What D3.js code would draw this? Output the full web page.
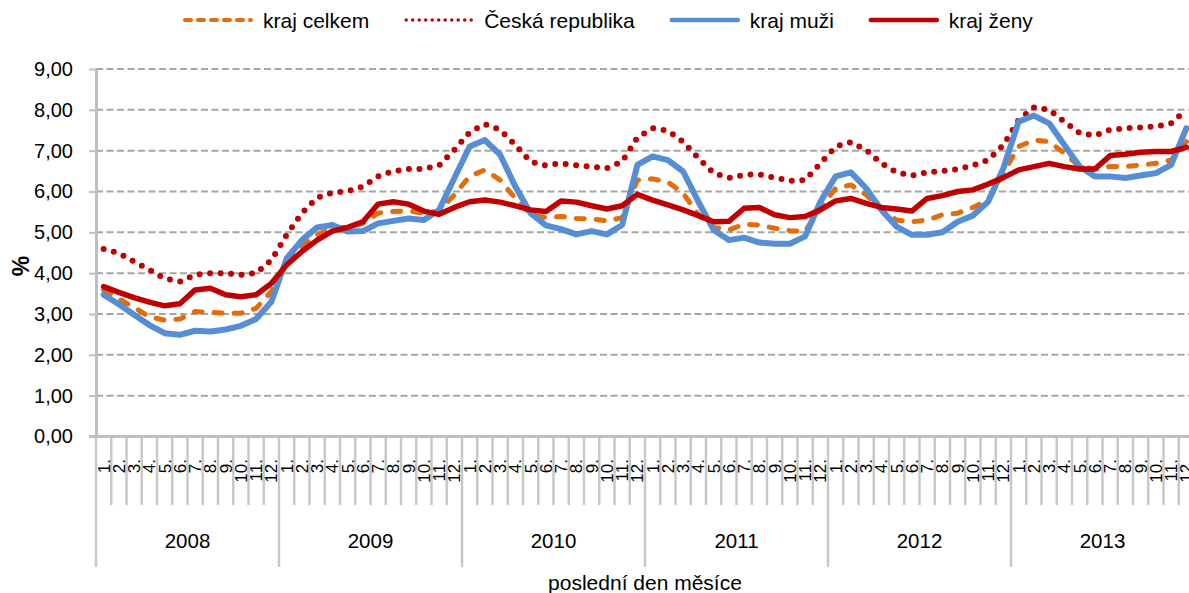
<!DOCTYPE html>
<html>
<head>
<meta charset="utf-8">
<script src="https://cdn.jsdelivr.net/npm/d3@7"></script>
<style>
  html, body { margin: 0; padding: 0; overflow: hidden; background: #fff; }
  svg { display: block; font-family: "Liberation Sans", Arial, sans-serif; }
</style>
</head>
<body>
<svg id="chart" width="1189" height="593"></svg>
<script>
// ---- data ----
const years = ["2008", "2009", "2010", "2011", "2012", "2013"];
const monthLabels = ["1.", "2.", "3.", "4.", "5.", "6.", "7.", "8.", "9.", "10.", "11.", "12."];
const yTicks = [0, 1, 2, 3, 4, 5, 6, 7, 8, 9];
const seriesNames = ["kraj celkem", "Česká republika", "kraj muži", "kraj ženy"];

const krajCelkem = [
  3.59, 3.37, 3.16, 2.93, 2.85, 2.88, 3.06, 3.04, 3.02, 3.02, 3.14, 3.55,
  4.24, 4.65, 4.94, 5.10, 5.12, 5.22, 5.47, 5.51, 5.52, 5.47, 5.52, 5.92,
  6.37, 6.53, 6.28, 5.83, 5.44, 5.36, 5.39, 5.34, 5.33, 5.28, 5.36, 6.28,
  6.31, 6.23, 5.96, 5.43, 5.12, 5.06, 5.20, 5.18, 5.10, 5.04, 5.03, 5.59,
  6.08, 6.16, 5.92, 5.55, 5.30, 5.26, 5.30, 5.43, 5.47, 5.61, 5.79, 6.45,
  7.10, 7.26, 7.22, 6.94, 6.61, 6.55, 6.61, 6.61, 6.65, 6.69, 6.77, 7.22
];
const ceskaRepublika = [
  4.59, 4.49, 4.28, 4.08, 3.87, 3.79, 3.96, 4.00, 4.00, 3.96, 4.00, 4.32,
  4.94, 5.47, 5.85, 5.97, 6.01, 6.12, 6.37, 6.50, 6.55, 6.55, 6.64, 7.02,
  7.45, 7.65, 7.51, 7.14, 6.73, 6.64, 6.69, 6.64, 6.61, 6.57, 6.73, 7.32,
  7.55, 7.49, 7.22, 6.82, 6.45, 6.33, 6.41, 6.42, 6.34, 6.26, 6.28, 6.69,
  7.10, 7.21, 7.02, 6.69, 6.47, 6.39, 6.47, 6.50, 6.55, 6.64, 6.77, 7.14,
  7.75, 8.06, 8.00, 7.71, 7.43, 7.37, 7.51, 7.55, 7.57, 7.59, 7.67, 8.00
];
const krajMuzi = [
  3.47, 3.24, 2.98, 2.73, 2.53, 2.49, 2.59, 2.57, 2.62, 2.71, 2.88, 3.30,
  4.36, 4.81, 5.12, 5.18, 5.02, 5.03, 5.22, 5.28, 5.34, 5.30, 5.55, 6.33,
  7.10, 7.26, 6.90, 6.12, 5.47, 5.17, 5.08, 4.95, 5.03, 4.95, 5.18, 6.65,
  6.86, 6.77, 6.49, 5.75, 5.06, 4.81, 4.87, 4.75, 4.72, 4.72, 4.90, 5.75,
  6.37, 6.47, 6.08, 5.55, 5.14, 4.94, 4.94, 5.00, 5.26, 5.41, 5.75, 6.57,
  7.71, 7.86, 7.67, 7.14, 6.61, 6.37, 6.37, 6.33, 6.39, 6.45, 6.65, 7.55
];
const krajZeny = [
  3.67, 3.53, 3.40, 3.29, 3.20, 3.25, 3.59, 3.63, 3.47, 3.42, 3.47, 3.75,
  4.20, 4.53, 4.81, 5.03, 5.12, 5.26, 5.69, 5.75, 5.69, 5.52, 5.44, 5.61,
  5.75, 5.79, 5.74, 5.65, 5.55, 5.51, 5.77, 5.74, 5.65, 5.57, 5.65, 5.93,
  5.79, 5.67, 5.55, 5.41, 5.26, 5.27, 5.59, 5.61, 5.43, 5.36, 5.39, 5.55,
  5.77, 5.83, 5.71, 5.61, 5.57, 5.52, 5.83, 5.90, 6.00, 6.04, 6.18, 6.34,
  6.53, 6.61, 6.69, 6.61, 6.55, 6.55, 6.88, 6.91, 6.96, 6.98, 6.98, 7.08
];

// ---- build ----
const categories = [];
years.forEach(yr => monthLabels.forEach(m => categories.push(yr + "-" + m)));

const svg = d3.select("#chart");
const plotLeft = 96, plotRight = 1194, plotTop = 69, plotBottom = 436.5;

const x = d3.scaleBand().domain(categories).range([plotLeft, plotRight]).padding(0);
const y = d3.scaleLinear().domain([0, 9]).range([plotBottom, plotTop]);
const cx = c => x(c) + x.bandwidth() / 2;
const axisColor = "#BFBFBF";

// gridlines
svg.append("g").selectAll("line").data(yTicks.filter(t => t > 0)).join("line")
  .attr("x1", plotLeft).attr("x2", 1189)
  .attr("y1", d => y(d)).attr("y2", d => y(d))
  .attr("stroke", "#A6A6A6").attr("stroke-width", 2)
  .attr("stroke-dasharray", "7,3.5");

// y axis
const yAxis = d3.axisLeft(y).tickValues(yTicks)
  .tickFormat(d => d3.format(".2f")(d).replace(".", ","))
  .tickSizeInner(7).tickSizeOuter(0).tickPadding(16);
const yg = svg.append("g").attr("transform", `translate(${plotLeft},0)`).call(yAxis);
yg.select(".domain").attr("stroke", axisColor).attr("stroke-width", 3);
yg.selectAll(".tick line").attr("stroke", axisColor).attr("stroke-width", 2);
yg.selectAll(".tick text").attr("font-size", 20).attr("fill", "#000")
  .attr("font-family", "Liberation Sans, Arial, sans-serif");

// x axis: month boundary ticks
const boundaries = d3.range(categories.length + 1);
const bx = i => i < categories.length ? x(categories[i]) : x(categories[i - 1]) + x.bandwidth();
svg.append("g").selectAll("line").data(boundaries).join("line")
  .attr("x1", i => bx(i)).attr("x2", i => bx(i))
  .attr("y1", plotBottom).attr("y2", i => (i % 12 === 0) ? 567 : 505)
  .attr("stroke", "#C8C8C8").attr("stroke-width", 2.5);

svg.append("line").attr("x1", 89).attr("x2", 1189).attr("y1", plotBottom).attr("y2", plotBottom)
  .attr("stroke", axisColor).attr("stroke-width", 3);

// month labels
svg.append("g").selectAll("text").data(categories).join("text")
  .attr("transform", c => `translate(${cx(c)},459) rotate(-90)`)
  .attr("dy", "0.35em")
  .attr("text-anchor", "end")
  .attr("font-size", 17).attr("fill", "#000")
  .text(c => c.split("-")[1]);

// year labels
svg.append("g").selectAll("text").data(years).join("text")
  .attr("x", (yr, k) => (bx(k * 12) + bx(k * 12 + 12)) / 2)
  .attr("y", 548)
  .attr("text-anchor", "middle").attr("font-size", 20.5).attr("fill", "#000")
  .text(d => d);

// axis titles
svg.append("text").attr("x", (plotLeft + plotRight) / 2).attr("y", 590)
  .attr("text-anchor", "middle").attr("font-size", 21).attr("fill", "#000")
  .text("poslední den měsíce");
svg.append("text").attr("transform", "translate(29,266) rotate(-90)")
  .attr("text-anchor", "middle").attr("font-size", 23).attr("font-weight", "bold")
  .attr("fill", "#000").text("%");

// series
const series = [
  { name: seriesNames[0], values: krajCelkem, color: "#E46C0A", width: 5, dash: "8,12", lw: 4, ldash: "6,7" },
  { name: seriesNames[1], values: ceskaRepublika, color: "#C00000", width: 6, dash: "0,10.5", lw: 3.5, ldash: "0,6.5" },
  { name: seriesNames[2], values: krajMuzi, color: "#558ED5", width: 6, dash: null, lw: 4.5, ldash: null },
  { name: seriesNames[3], values: krajZeny, color: "#C00000", width: 5.5, dash: null, lw: 4.5, ldash: null }
];

const line = d3.line().x((d, i) => cx(categories[i])).y(d => y(d));
series.forEach(s => {
  svg.append("path").datum(s.values)
    .attr("d", line)
    .attr("fill", "none")
    .attr("stroke", s.color)
    .attr("stroke-width", s.width)
    .attr("stroke-linejoin", "round")
    .attr("stroke-linecap", "round")
    .attr("stroke-dasharray", s.dash);
});

// legend
const lg = svg.append("g");
let lx = 185;
series.forEach(s => {
  lg.append("line").attr("x1", lx).attr("x2", lx + 66).attr("y1", 20).attr("y2", 20)
    .attr("stroke", s.color).attr("stroke-width", s.lw)
    .attr("stroke-linecap", "round").attr("stroke-dasharray", s.ldash);
  const t = lg.append("text").attr("x", lx + 78).attr("y", 28)
    .attr("font-size", 21).attr("fill", "#000").text(s.name);
  lx = lx + 78 + t.node().getComputedTextLength() + 37;
});
</script>
</body>
</html>
